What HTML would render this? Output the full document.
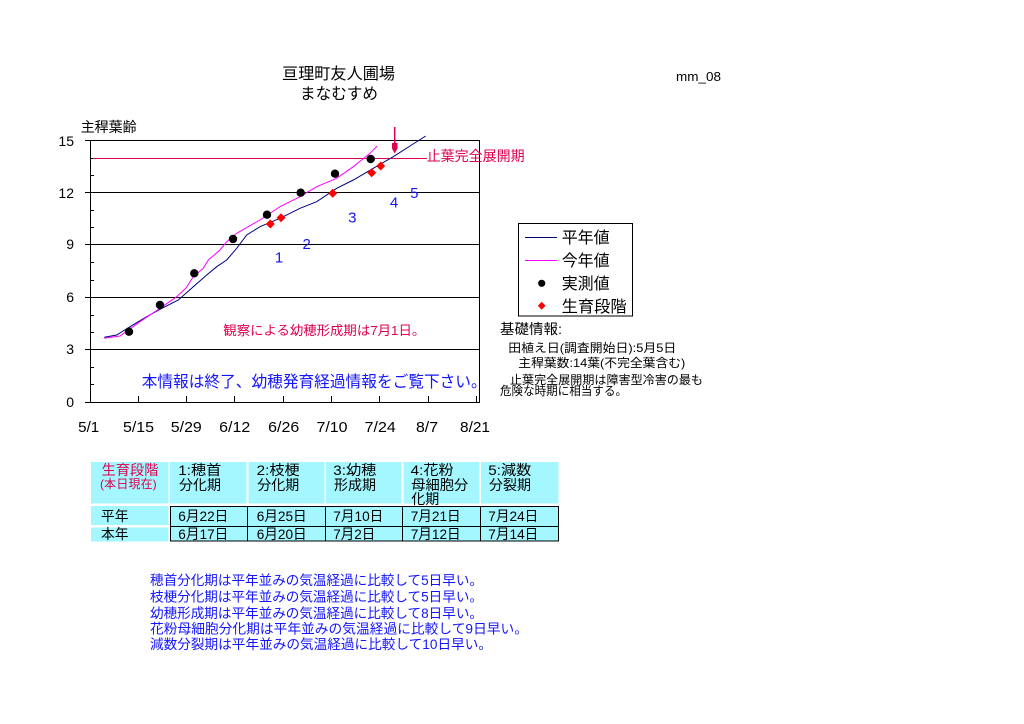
<!DOCTYPE html>
<html><head><meta charset="utf-8"><style>
html,body{margin:0;padding:0;background:#fff;}
svg{display:block;}
text{font-family:"Liberation Sans","Noto Sans CJK JP",sans-serif;}
</style></head><body>
<svg width="1024" height="724" viewBox="0 0 1024 724" xmlns="http://www.w3.org/2000/svg">
<rect width="1024" height="724" fill="#fff"/>
<!-- titles -->
<text x="338.5" y="79" font-size="16" text-anchor="middle" textLength="113" lengthAdjust="spacingAndGlyphs">亘理町友人圃場</text>
<text x="339" y="99" font-size="16" text-anchor="middle" textLength="78" lengthAdjust="spacingAndGlyphs">まなむすめ</text>
<text x="676" y="81" font-size="13" textLength="45" lengthAdjust="spacingAndGlyphs">mm_08</text>
<text x="80.7" y="132" font-size="14" textLength="56" lengthAdjust="spacingAndGlyphs">主稈葉齢</text>

<!-- plot frame & grid -->
<g stroke="#000" stroke-width="1" fill="none" shape-rendering="crispEdges">
<line x1="85" y1="140.5" x2="479" y2="140.5"/>
<line x1="85" y1="192.5" x2="479" y2="192.5"/>
<line x1="85" y1="244.5" x2="479" y2="244.5"/>
<line x1="85" y1="297.5" x2="479" y2="297.5"/>
<line x1="85" y1="349.5" x2="479" y2="349.5"/>
<line x1="85" y1="402.5" x2="479" y2="402.5"/>
<line x1="90.5" y1="140" x2="90.5" y2="403"/>
<line x1="479.5" y1="140" x2="479.5" y2="403"/>
<!-- minor y ticks -->
<line x1="90" y1="158.5" x2="94" y2="158.5"/>
<line x1="90" y1="175.5" x2="94" y2="175.5"/>
<line x1="90" y1="210.5" x2="94" y2="210.5"/>
<line x1="90" y1="227.5" x2="94" y2="227.5"/>
<line x1="90" y1="262.5" x2="94" y2="262.5"/>
<line x1="90" y1="280.5" x2="94" y2="280.5"/>
<line x1="90" y1="315.5" x2="94" y2="315.5"/>
<line x1="90" y1="332.5" x2="94" y2="332.5"/>
<line x1="90" y1="367.5" x2="94" y2="367.5"/>
<line x1="90" y1="384.5" x2="94" y2="384.5"/>
<!-- x ticks -->
<line x1="138.5" y1="396" x2="138.5" y2="402"/>
<line x1="186.5" y1="396" x2="186.5" y2="402"/>
<line x1="234.5" y1="396" x2="234.5" y2="402"/>
<line x1="283.5" y1="396" x2="283.5" y2="402"/>
<line x1="331.5" y1="396" x2="331.5" y2="402"/>
<line x1="379.5" y1="396" x2="379.5" y2="402"/>
<line x1="428.5" y1="396" x2="428.5" y2="402"/>
<line x1="476.5" y1="396" x2="476.5" y2="402"/>
</g>

<!-- y labels -->
<g font-size="14" text-anchor="end">
<text x="74" y="146">15</text>
<text x="74" y="198">12</text>
<text x="74" y="249">9</text>
<text x="74" y="302">6</text>
<text x="74" y="354">3</text>
<text x="74" y="407">0</text>
</g>
<!-- x labels -->
<g font-size="15" text-anchor="middle">
<text x="88.7" y="432" textLength="21" lengthAdjust="spacingAndGlyphs">5/1</text>
<text x="138.5" y="432" textLength="31" lengthAdjust="spacingAndGlyphs">5/15</text>
<text x="186.3" y="432" textLength="31" lengthAdjust="spacingAndGlyphs">5/29</text>
<text x="234.7" y="432" textLength="31" lengthAdjust="spacingAndGlyphs">6/12</text>
<text x="283.7" y="432" textLength="31" lengthAdjust="spacingAndGlyphs">6/26</text>
<text x="332" y="432" textLength="31" lengthAdjust="spacingAndGlyphs">7/10</text>
<text x="380.2" y="432" textLength="31" lengthAdjust="spacingAndGlyphs">7/24</text>
<text x="427" y="432" textLength="22" lengthAdjust="spacingAndGlyphs">8/7</text>
<text x="475" y="432" textLength="30" lengthAdjust="spacingAndGlyphs">8/21</text>
</g>

<!-- 止葉完全展開期 line -->
<line x1="93" y1="158.5" x2="427" y2="158.5" stroke="#e0004c" stroke-width="1" shape-rendering="crispEdges"/>
<text x="426.7" y="161" font-size="14" fill="#e0004c" textLength="98" lengthAdjust="spacingAndGlyphs">止葉完全展開期</text>
<!-- arrow -->
<line x1="394.7" y1="127" x2="394.7" y2="145" stroke="#e0004c" stroke-width="1.5"/>
<polygon points="392,143 397.5,143 397.5,148.5 394.7,153.5 392,148.5" fill="#e0004c"/>

<!-- series: 平年値 -->
<polyline fill="none" stroke="#000080" stroke-width="1" points="104.3,337.3 116.7,335 130,326.7 146.7,316.7 160,309.3 178.3,300 193.3,286.7 206.7,275 216.7,266.7 226.7,260 236.7,248.3 246.7,235 260,226.7 280,218.3 300,208.3 316.7,201.7 336.7,188.3 353.3,180 373.3,168.3 393.3,156.7 410,146 425.7,136"/>
<!-- series: 今年値 -->
<polyline fill="none" stroke="#ff00ff" stroke-width="1" points="104.3,338.3 120,336 140,321.7 160,308.3 176.7,296.7 186,288 193.3,276.7 203.3,268.3 208.3,260 220,250 226.7,241.7 236.7,233.3 260,220 280,206.7 300,196.7 316.7,186.7 336.7,178.3 353.3,166.7 370,153.3 377.3,146"/>

<!-- 実測値 -->
<g fill="#000">
<circle cx="129" cy="331.7" r="4.2"/>
<circle cx="160" cy="305" r="4.2"/>
<circle cx="194.3" cy="273.3" r="4.2"/>
<circle cx="233" cy="239" r="4.2"/>
<circle cx="267" cy="214.7" r="4.2"/>
<circle cx="300.7" cy="192.7" r="4.2"/>
<circle cx="335" cy="173.7" r="4.2"/>
<circle cx="370.7" cy="159" r="4.2"/>
</g>
<!-- 生育段階 -->
<g fill="#ff0000">
<polygon points="270.3,219.5 274.8,224 270.3,228.5 265.8,224"/>
<polygon points="281,213.2 285.5,217.7 281,222.2 276.5,217.7"/>
<polygon points="332.7,188.8 337.2,193.3 332.7,197.8 328.2,193.3"/>
<polygon points="371.7,168.2 376.2,172.7 371.7,177.2 367.2,172.7"/>
<polygon points="380.7,161.5 385.2,166 380.7,170.5 376.2,166"/>
</g>

<!-- stage numbers -->
<g font-size="15" fill="#1414ff" text-anchor="middle">
<text x="279" y="262.5">1</text>
<text x="306.7" y="249">2</text>
<text x="352.3" y="222.3">3</text>
<text x="394" y="207.3">4</text>
<text x="414.3" y="197.8">5</text>
</g>

<!-- in-plot notes -->
<text x="223.3" y="335" font-size="13" fill="#e0004c" textLength="202" lengthAdjust="spacingAndGlyphs">観察による幼穂形成期は7月1日。</text>
<text x="141.7" y="387" font-size="16" fill="#1414ff" textLength="345" lengthAdjust="spacingAndGlyphs">本情報は終了、幼穂発育経過情報をご覧下さい。</text>

<!-- legend -->
<rect x="518.5" y="223.5" width="114" height="92.5" fill="#fff" stroke="#000" stroke-width="1" shape-rendering="crispEdges"/>
<line x1="525" y1="237.5" x2="557" y2="237.5" stroke="#000080" stroke-width="1" shape-rendering="crispEdges"/>
<line x1="525" y1="260.5" x2="557" y2="260.5" stroke="#ff00ff" stroke-width="1" shape-rendering="crispEdges"/>
<circle cx="541.7" cy="283.3" r="3.6" fill="#000"/>
<polygon points="541.7,301.7 545.5,305.7 541.7,309.7 537.9,305.7" fill="#ff0000"/>
<g font-size="16">
<text x="561.7" y="243" textLength="48" lengthAdjust="spacingAndGlyphs">平年値</text>
<text x="561.7" y="266" textLength="48" lengthAdjust="spacingAndGlyphs">今年値</text>
<text x="561.7" y="289" textLength="48" lengthAdjust="spacingAndGlyphs">実測値</text>
<text x="561.7" y="312" textLength="65" lengthAdjust="spacingAndGlyphs">生育段階</text>
</g>

<!-- info -->
<text x="500" y="334" font-size="14" textLength="62" lengthAdjust="spacingAndGlyphs">基礎情報:</text>
<text x="508.3" y="352" font-size="12" textLength="168" lengthAdjust="spacingAndGlyphs">田植え日(調査開始日):5月5日</text>
<text x="518.3" y="367" font-size="12" textLength="167" lengthAdjust="spacingAndGlyphs">主稈葉数:14葉(不完全葉含む)</text>
<text x="510" y="384" font-size="12" textLength="193" lengthAdjust="spacingAndGlyphs">止葉完全展開期は障害型冷害の最も</text>
<text x="500" y="395" font-size="12" textLength="127" lengthAdjust="spacingAndGlyphs">危険な時期に相当する。</text>

<!-- table -->
<g fill="#a4f6ff" shape-rendering="crispEdges">
<rect x="91" y="462" width="77.3" height="41.5"/>
<rect x="170" y="462" width="76.7" height="41.5"/>
<rect x="248.3" y="462" width="76" height="41.5"/>
<rect x="326" y="462" width="75.7" height="41.5"/>
<rect x="403.3" y="462" width="76" height="41.5"/>
<rect x="481" y="462" width="77.3" height="41.5"/>
<rect x="91" y="506" width="77.3" height="19"/>
<rect x="91" y="527.3" width="77.3" height="14"/>
<rect x="170" y="506" width="388.3" height="35"/>
</g>
<g stroke="#000" stroke-width="1" fill="none" shape-rendering="crispEdges">
<rect x="170.5" y="506.5" width="388" height="34.5"/>
<line x1="170" y1="526.5" x2="558.5" y2="526.5"/>
<line x1="247.5" y1="506" x2="247.5" y2="541"/>
<line x1="325.5" y1="506" x2="325.5" y2="541"/>
<line x1="402.5" y1="506" x2="402.5" y2="541"/>
<line x1="480.5" y1="506" x2="480.5" y2="541"/>
</g>
<text x="101.7" y="475" font-size="14" fill="#e0004c" textLength="56.7" lengthAdjust="spacingAndGlyphs">生育段階</text>
<text x="100" y="488" font-size="12" fill="#e0004c" textLength="56.7" lengthAdjust="spacingAndGlyphs">(本日現在)</text>
<g font-size="14">
<text x="178.3" y="475" textLength="43" lengthAdjust="spacingAndGlyphs">1:穂首</text>
<text x="179" y="490" textLength="42" lengthAdjust="spacingAndGlyphs">分化期</text>
<text x="256.7" y="475" textLength="43" lengthAdjust="spacingAndGlyphs">2:枝梗</text>
<text x="257.3" y="490" textLength="42" lengthAdjust="spacingAndGlyphs">分化期</text>
<text x="333.3" y="475" textLength="43" lengthAdjust="spacingAndGlyphs">3:幼穂</text>
<text x="334" y="490" textLength="42" lengthAdjust="spacingAndGlyphs">形成期</text>
<text x="410.7" y="475" textLength="43" lengthAdjust="spacingAndGlyphs">4:花粉</text>
<text x="411.3" y="490" textLength="57" lengthAdjust="spacingAndGlyphs">母細胞分</text>
<text x="411.3" y="504" textLength="28" lengthAdjust="spacingAndGlyphs">化期</text>
<text x="488.3" y="475" textLength="43" lengthAdjust="spacingAndGlyphs">5:減数</text>
<text x="489" y="490" textLength="42" lengthAdjust="spacingAndGlyphs">分裂期</text>

<text x="101" y="521" textLength="27.5" lengthAdjust="spacingAndGlyphs">平年</text>
<text x="101" y="539" textLength="27.5" lengthAdjust="spacingAndGlyphs">本年</text>

<text x="178.3" y="521" textLength="50" lengthAdjust="spacingAndGlyphs">6月22日</text>
<text x="256.7" y="521" textLength="50" lengthAdjust="spacingAndGlyphs">6月25日</text>
<text x="333.3" y="521" textLength="50" lengthAdjust="spacingAndGlyphs">7月10日</text>
<text x="410.7" y="521" textLength="50" lengthAdjust="spacingAndGlyphs">7月21日</text>
<text x="488.3" y="521" textLength="50" lengthAdjust="spacingAndGlyphs">7月24日</text>

<text x="178.3" y="539" textLength="50" lengthAdjust="spacingAndGlyphs">6月17日</text>
<text x="256.7" y="539" textLength="50" lengthAdjust="spacingAndGlyphs">6月20日</text>
<text x="333.3" y="539" textLength="42" lengthAdjust="spacingAndGlyphs">7月2日</text>
<text x="410.7" y="539" textLength="50" lengthAdjust="spacingAndGlyphs">7月12日</text>
<text x="488.3" y="539" textLength="50" lengthAdjust="spacingAndGlyphs">7月14日</text>
</g>

<!-- bottom comments -->
<g font-size="13.5" fill="#1414ff">
<text x="150" y="585" textLength="333" lengthAdjust="spacingAndGlyphs">穂首分化期は平年並みの気温経過に比較して5日早い。</text>
<text x="150" y="601.5" textLength="333" lengthAdjust="spacingAndGlyphs">枝梗分化期は平年並みの気温経過に比較して5日早い。</text>
<text x="150" y="618" textLength="333" lengthAdjust="spacingAndGlyphs">幼穂形成期は平年並みの気温経過に比較して8日早い。</text>
<text x="150" y="633.5" textLength="378" lengthAdjust="spacingAndGlyphs">花粉母細胞分化期は平年並みの気温経過に比較して9日早い。</text>
<text x="150" y="649" textLength="342" lengthAdjust="spacingAndGlyphs">減数分裂期は平年並みの気温経過に比較して10日早い。</text>
</g>
</svg>
</body></html>
